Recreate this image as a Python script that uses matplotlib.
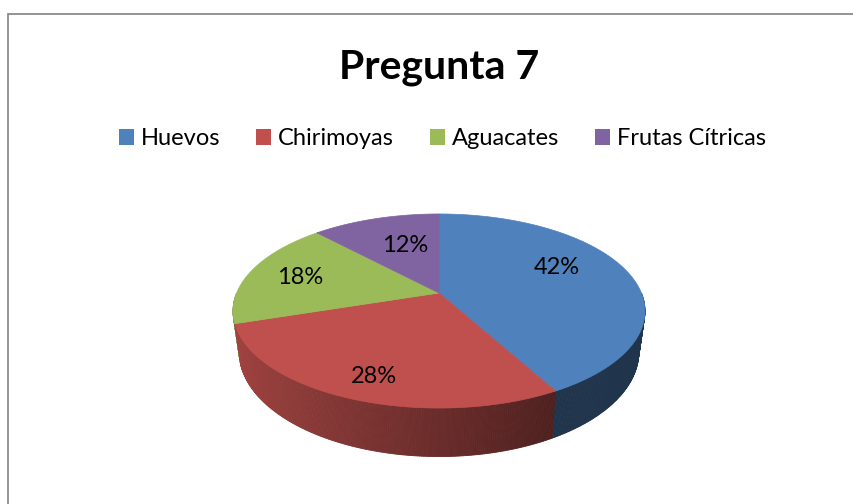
import matplotlib.pyplot as plt
import numpy as np
from matplotlib.patches import Polygon, Patch

plt.rcParams['font.family'] = ['Lato', 'DejaVu Sans']

# datos
title = 'Pregunta 7'
categories = ['Huevos', 'Chirimoyas', 'Aguacates', 'Frutas Cítricas']
percentages = [42, 28, 18, 12]
colors = ['#4F81BD', '#C0504D', '#9BBB59', '#8064A2']

# geometria del pastel 3D (pixeles)
cx, cy = 439, 293
rx, ry = 202.4, 93.7
persp = 0.1856
depth = 39.5
shrink = 0.97

# ajuste de etiquetas (radio relativo, giro en grados)
label_r = [0.693, 0.795, 0.735, 0.620]
label_shift = [12.7, 1.2, -0.4, -4.2]


def project(t_deg, r=1.0):
    t = np.radians(t_deg)
    u, v = r * np.cos(t), r * np.sin(t)
    s = 1.0 / (1.0 + persp * v)
    return cx + rx * u * s, cy - ry * v * s, s


def bottom(t_deg):
    x, y, s = project(t_deg)
    return cx + (x - cx) * shrink, y + depth * s


def shade(t_deg):
    d = -np.cos(np.radians(t_deg))
    return 0.40 + 0.45 * np.clip((d + 0.5) / 1.5, 0, 1)


fig = plt.figure(figsize=(8.54, 5.04), dpi=100)
ax = fig.add_axes([0, 0, 1, 1])
ax.set_xlim(0, 854)
ax.set_ylim(504, 0)
ax.axis('off')

fracs = np.array(percentages) / sum(percentages)
ends = 90 - 360 * np.cumsum(fracs)
starts = ends + 360 * fracs

# paredes laterales (solo la mitad frontal es visible)
strips = []
for i, (a0, a1) in enumerate(zip(starts, ends)):
    base = np.array(plt.matplotlib.colors.to_rgb(colors[i]))
    for off in (-360, 0, 360):
        lo, hi = max(a1 + off, -180), min(a0 + off, 0)
        if hi <= lo:
            continue
        ts = np.linspace(lo, hi, int((hi - lo) / 0.5) + 2)
        for t1, t2 in zip(ts[:-1], ts[1:]):
            x1, y1, _ = project(t1)
            x2, y2, _ = project(t2)
            bx1, by1 = bottom(t1)
            bx2, by2 = bottom(t2)
            tm = (t1 + t2) / 2
            c = base * shade(tm)
            strips.append((np.sin(np.radians(tm)),
                           [(x1, y1), (x2, y2), (bx2, by2), (bx1, by1)], c))

strips.sort(key=lambda s: -s[0])
for _, pts, c in strips:
    ax.add_patch(Polygon(pts, closed=True, facecolor=c, edgecolor=c, lw=0.6))

# caras superiores
for i, (a0, a1) in enumerate(zip(starts, ends)):
    ts = np.linspace(a0, a1, 200)
    xs, ys, _ = project(ts)
    pts = [(cx, cy)] + list(zip(xs, ys))
    ax.add_patch(Polygon(pts, closed=True, facecolor=colors[i],
                         edgecolor=colors[i], lw=0.5))

# etiquetas de porcentaje
fs_lab = 17
for i, (a0, a1) in enumerate(zip(starts, ends)):
    mid = (a0 + a1) / 2 + label_shift[i]
    x, y, _ = project(mid, label_r[i])
    ax.text(x, y + 0.36 * fs_lab * 100 / 72, f'{percentages[i]}%',
            ha='center', va='baseline', fontsize=fs_lab, color='black')

ax.text(cx + 0.5, 78, title, ha='center', va='baseline', fontsize=29.5,
        fontweight='bold', color='black')

handles = [Patch(facecolor=c, edgecolor='none') for c in colors]
ax.legend(handles, categories, loc='center', bbox_to_anchor=(0.518, 0.725),
          ncol=4, frameon=False, fontsize=17, handlelength=0.64,
          handleheight=0.64, handletextpad=0.3, columnspacing=1.5)

# borde del grafico
ax.plot([8.5, 8.5, 854], [504, 13.5, 13.5], color='#8C8C8C', lw=1.3,
        clip_on=False, solid_joinstyle='miter')

plt.savefig('out.png', dpi=100, facecolor='white')
plt.close()
